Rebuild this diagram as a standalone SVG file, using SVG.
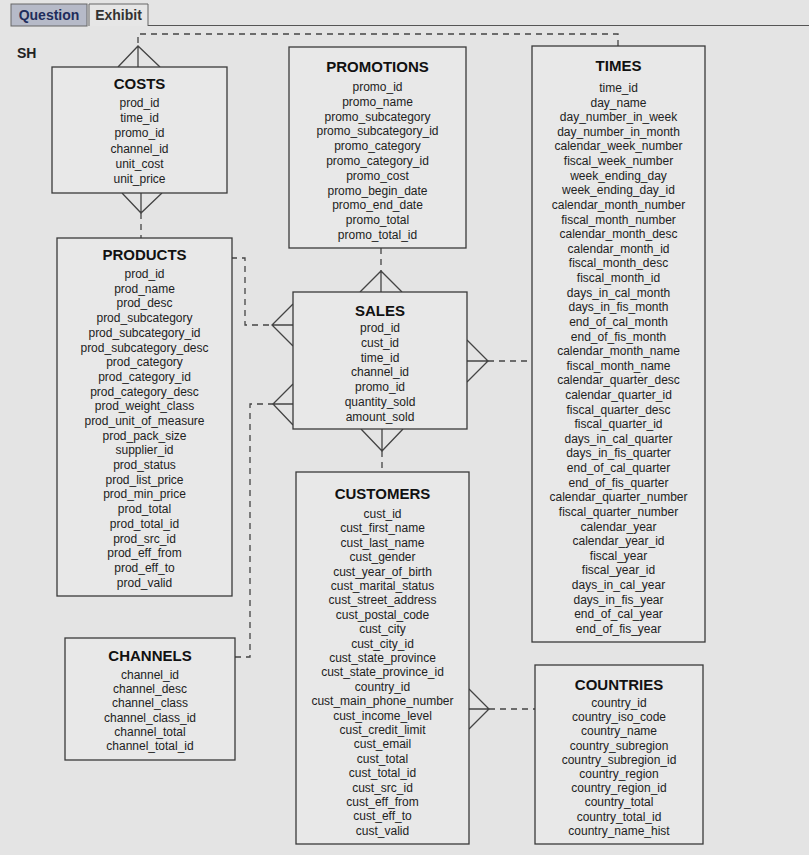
<svg xmlns="http://www.w3.org/2000/svg" width="809" height="855" viewBox="0 0 809 855">
<style>
.bg{fill:#e4e4e4}
.box{fill:#e8e8e8;stroke:#3a3a3a;stroke-width:1.3}
.t{font-family:"Liberation Sans",Arial,sans-serif;font-size:15px;font-weight:bold;fill:#111;text-anchor:middle}
.f{font-family:"Liberation Sans",Arial,sans-serif;font-size:12px;fill:#222;text-anchor:middle}
.dash{fill:none;stroke:#444;stroke-width:1.3;stroke-dasharray:6,5}
.solid{fill:none;stroke:#444;stroke-width:1.3}
.tab{font-family:"Liberation Sans",Arial,sans-serif;font-size:14px;font-weight:bold}
</style>
<rect class="bg" x="0" y="0" width="809" height="855"/>
<g id="tabs">
<rect x="11" y="4" width="76" height="22" fill="#b6bac8" stroke="#666" stroke-width="1"/>
<text class="tab" x="49" y="20" text-anchor="middle" fill="#1f2d5c">Question</text>
<path d="M89,26 V4 H148 V26" fill="#e6e6e6" stroke="#666" stroke-width="1"/>
<text class="tab" x="118.5" y="20" text-anchor="middle" fill="#333">Exhibit</text>
<line x1="148" y1="25.5" x2="809" y2="25.5" stroke="#555" stroke-width="1"/>
<text x="17" y="58" font-family="Liberation Sans,Arial,sans-serif" font-size="14" font-weight="bold" fill="#222">SH</text>
</g>
<g id="connectors">
<!-- TIMES - COSTS -->
<path class="dash" d="M618,46 V34 H138 V46"/>
<path class="solid" d="M138,46 V67 M118,67 L138,46 L160,67"/>
<!-- COSTS - PRODUCTS -->
<path class="solid" d="M141,193 V213 M122,193 L141,213 L162,193"/>
<path class="dash" d="M141,213 V238"/>
<!-- PRODUCTS - SALES -->
<path class="dash" d="M231,258 H245 V325 H272"/>
<path class="solid" d="M272,325 H293 M293,304 L272,325 L293,346"/>
<!-- CHANNELS - SALES -->
<path class="dash" d="M235,657 H250 V404 H273"/>
<path class="solid" d="M273,404 H293 M293,384 L273,404 L293,425"/>
<!-- PROMOTIONS - SALES -->
<path class="dash" d="M381,248 V271"/>
<path class="solid" d="M381,271 V292 M360,292 L381,271 L402,292"/>
<!-- TIMES - SALES -->
<path class="dash" d="M488,361 H532"/>
<path class="solid" d="M467,361 H488 M467,340 L488,361 L467,382"/>
<!-- CUSTOMERS - SALES -->
<path class="solid" d="M382,429 V451 M361,429 L382,451 L403,429"/>
<path class="dash" d="M382,451 V472"/>
<!-- COUNTRIES - CUSTOMERS -->
<path class="dash" d="M489,709 H535"/>
<path class="solid" d="M469,709 H489 M469,689 L489,709 L469,729"/>
</g>
<g id="costs">
<rect class="box" x="52" y="67" width="175" height="126"/>
<text class="t" x="139.5" y="89">COSTS</text>
<text class="f"><tspan x="139.5" y="107">prod_id</tspan><tspan x="139.5" dy="15.2">time_id</tspan><tspan x="139.5" dy="15.2">promo_id</tspan><tspan x="139.5" dy="15.2">channel_id</tspan><tspan x="139.5" dy="15.2">unit_cost</tspan><tspan x="139.5" dy="15.2">unit_price</tspan></text>
</g>
<g id="products">
<rect class="box" x="57" y="238" width="175" height="358"/>
<text class="t" x="144.5" y="260">PRODUCTS</text>
<text class="f"><tspan x="144.5" y="278">prod_id</tspan><tspan x="144.5" dy="14.7">prod_name</tspan><tspan x="144.5" dy="14.7">prod_desc</tspan><tspan x="144.5" dy="14.7">prod_subcategory</tspan><tspan x="144.5" dy="14.7">prod_subcategory_id</tspan><tspan x="144.5" dy="14.7">prod_subcategory_desc</tspan><tspan x="144.5" dy="14.7">prod_category</tspan><tspan x="144.5" dy="14.7">prod_category_id</tspan><tspan x="144.5" dy="14.7">prod_category_desc</tspan><tspan x="144.5" dy="14.7">prod_weight_class</tspan><tspan x="144.5" dy="14.7">prod_unit_of_measure</tspan><tspan x="144.5" dy="14.7">prod_pack_size</tspan><tspan x="144.5" dy="14.7">supplier_id</tspan><tspan x="144.5" dy="14.7">prod_status</tspan><tspan x="144.5" dy="14.7">prod_list_price</tspan><tspan x="144.5" dy="14.7">prod_min_price</tspan><tspan x="144.5" dy="14.7">prod_total</tspan><tspan x="144.5" dy="14.7">prod_total_id</tspan><tspan x="144.5" dy="14.7">prod_src_id</tspan><tspan x="144.5" dy="14.7">prod_eff_from</tspan><tspan x="144.5" dy="14.7">prod_eff_to</tspan><tspan x="144.5" dy="14.7">prod_valid</tspan></text>
</g>
<g id="channels">
<rect class="box" x="65" y="638" width="170" height="122"/>
<text class="t" x="150" y="661">CHANNELS</text>
<text class="f"><tspan x="150" y="679">channel_id</tspan><tspan x="150" dy="14.2">channel_desc</tspan><tspan x="150" dy="14.2">channel_class</tspan><tspan x="150" dy="14.2">channel_class_id</tspan><tspan x="150" dy="14.2">channel_total</tspan><tspan x="150" dy="14.2">channel_total_id</tspan></text>
</g>
<g id="promotions">
<rect class="box" x="289" y="47" width="177" height="201"/>
<text class="t" x="377.5" y="72">PROMOTIONS</text>
<text class="f"><tspan x="377.5" y="91">promo_id</tspan><tspan x="377.5" dy="14.8">promo_name</tspan><tspan x="377.5" dy="14.8">promo_subcategory</tspan><tspan x="377.5" dy="14.8">promo_subcategory_id</tspan><tspan x="377.5" dy="14.8">promo_category</tspan><tspan x="377.5" dy="14.8">promo_category_id</tspan><tspan x="377.5" dy="14.8">promo_cost</tspan><tspan x="377.5" dy="14.8">promo_begin_date</tspan><tspan x="377.5" dy="14.8">promo_end_date</tspan><tspan x="377.5" dy="14.8">promo_total</tspan><tspan x="377.5" dy="14.8">promo_total_id</tspan></text>
</g>
<g id="sales">
<rect class="box" x="293" y="292" width="174" height="137"/>
<text class="t" x="380" y="316">SALES</text>
<text class="f"><tspan x="380" y="332">prod_id</tspan><tspan x="380" dy="14.8">cust_id</tspan><tspan x="380" dy="14.8">time_id</tspan><tspan x="380" dy="14.8">channel_id</tspan><tspan x="380" dy="14.8">promo_id</tspan><tspan x="380" dy="14.8">quantity_sold</tspan><tspan x="380" dy="14.8">amount_sold</tspan></text>
</g>
<g id="customers">
<rect class="box" x="296" y="472" width="173" height="372"/>
<text class="t" x="382.5" y="499">CUSTOMERS</text>
<text class="f"><tspan x="382.5" y="518">cust_id</tspan><tspan x="382.5" dy="14.4">cust_first_name</tspan><tspan x="382.5" dy="14.4">cust_last_name</tspan><tspan x="382.5" dy="14.4">cust_gender</tspan><tspan x="382.5" dy="14.4">cust_year_of_birth</tspan><tspan x="382.5" dy="14.4">cust_marital_status</tspan><tspan x="382.5" dy="14.4">cust_street_address</tspan><tspan x="382.5" dy="14.4">cust_postal_code</tspan><tspan x="382.5" dy="14.4">cust_city</tspan><tspan x="382.5" dy="14.4">cust_city_id</tspan><tspan x="382.5" dy="14.4">cust_state_province</tspan><tspan x="382.5" dy="14.4">cust_state_province_id</tspan><tspan x="382.5" dy="14.4">country_id</tspan><tspan x="382.5" dy="14.4">cust_main_phone_number</tspan><tspan x="382.5" dy="14.4">cust_income_level</tspan><tspan x="382.5" dy="14.4">cust_credit_limit</tspan><tspan x="382.5" dy="14.4">cust_email</tspan><tspan x="382.5" dy="14.4">cust_total</tspan><tspan x="382.5" dy="14.4">cust_total_id</tspan><tspan x="382.5" dy="14.4">cust_src_id</tspan><tspan x="382.5" dy="14.4">cust_eff_from</tspan><tspan x="382.5" dy="14.4">cust_eff_to</tspan><tspan x="382.5" dy="14.4">cust_valid</tspan></text>
</g>
<g id="times">
<rect class="box" x="532" y="46" width="173" height="596"/>
<text class="t" x="618.5" y="71">TIMES</text>
<text class="f"><tspan x="618.5" y="92">time_id</tspan><tspan x="618.5" dy="14.62">day_name</tspan><tspan x="618.5" dy="14.62">day_number_in_week</tspan><tspan x="618.5" dy="14.62">day_number_in_month</tspan><tspan x="618.5" dy="14.62">calendar_week_number</tspan><tspan x="618.5" dy="14.62">fiscal_week_number</tspan><tspan x="618.5" dy="14.62">week_ending_day</tspan><tspan x="618.5" dy="14.62">week_ending_day_id</tspan><tspan x="618.5" dy="14.62">calendar_month_number</tspan><tspan x="618.5" dy="14.62">fiscal_month_number</tspan><tspan x="618.5" dy="14.62">calendar_month_desc</tspan><tspan x="618.5" dy="14.62">calendar_month_id</tspan><tspan x="618.5" dy="14.62">fiscal_month_desc</tspan><tspan x="618.5" dy="14.62">fiscal_month_id</tspan><tspan x="618.5" dy="14.62">days_in_cal_month</tspan><tspan x="618.5" dy="14.62">days_in_fis_month</tspan><tspan x="618.5" dy="14.62">end_of_cal_month</tspan><tspan x="618.5" dy="14.62">end_of_fis_month</tspan><tspan x="618.5" dy="14.62">calendar_month_name</tspan><tspan x="618.5" dy="14.62">fiscal_month_name</tspan><tspan x="618.5" dy="14.62">calendar_quarter_desc</tspan><tspan x="618.5" dy="14.62">calendar_quarter_id</tspan><tspan x="618.5" dy="14.62">fiscal_quarter_desc</tspan><tspan x="618.5" dy="14.62">fiscal_quarter_id</tspan><tspan x="618.5" dy="14.62">days_in_cal_quarter</tspan><tspan x="618.5" dy="14.62">days_in_fis_quarter</tspan><tspan x="618.5" dy="14.62">end_of_cal_quarter</tspan><tspan x="618.5" dy="14.62">end_of_fis_quarter</tspan><tspan x="618.5" dy="14.62">calendar_quarter_number</tspan><tspan x="618.5" dy="14.62">fiscal_quarter_number</tspan><tspan x="618.5" dy="14.62">calendar_year</tspan><tspan x="618.5" dy="14.62">calendar_year_id</tspan><tspan x="618.5" dy="14.62">fiscal_year</tspan><tspan x="618.5" dy="14.62">fiscal_year_id</tspan><tspan x="618.5" dy="14.62">days_in_cal_year</tspan><tspan x="618.5" dy="14.62">days_in_fis_year</tspan><tspan x="618.5" dy="14.62">end_of_cal_year</tspan><tspan x="618.5" dy="14.62">end_of_fis_year</tspan></text>
</g>
<g id="countries">
<rect class="box" x="535" y="665" width="168" height="179"/>
<text class="t" x="619" y="690">COUNTRIES</text>
<text class="f"><tspan x="619" y="707">country_id</tspan><tspan x="619" dy="14.2">country_iso_code</tspan><tspan x="619" dy="14.2">country_name</tspan><tspan x="619" dy="14.2">country_subregion</tspan><tspan x="619" dy="14.2">country_subregion_id</tspan><tspan x="619" dy="14.2">country_region</tspan><tspan x="619" dy="14.2">country_region_id</tspan><tspan x="619" dy="14.2">country_total</tspan><tspan x="619" dy="14.2">country_total_id</tspan><tspan x="619" dy="14.2">country_name_hist</tspan></text>
</g>
</svg>
